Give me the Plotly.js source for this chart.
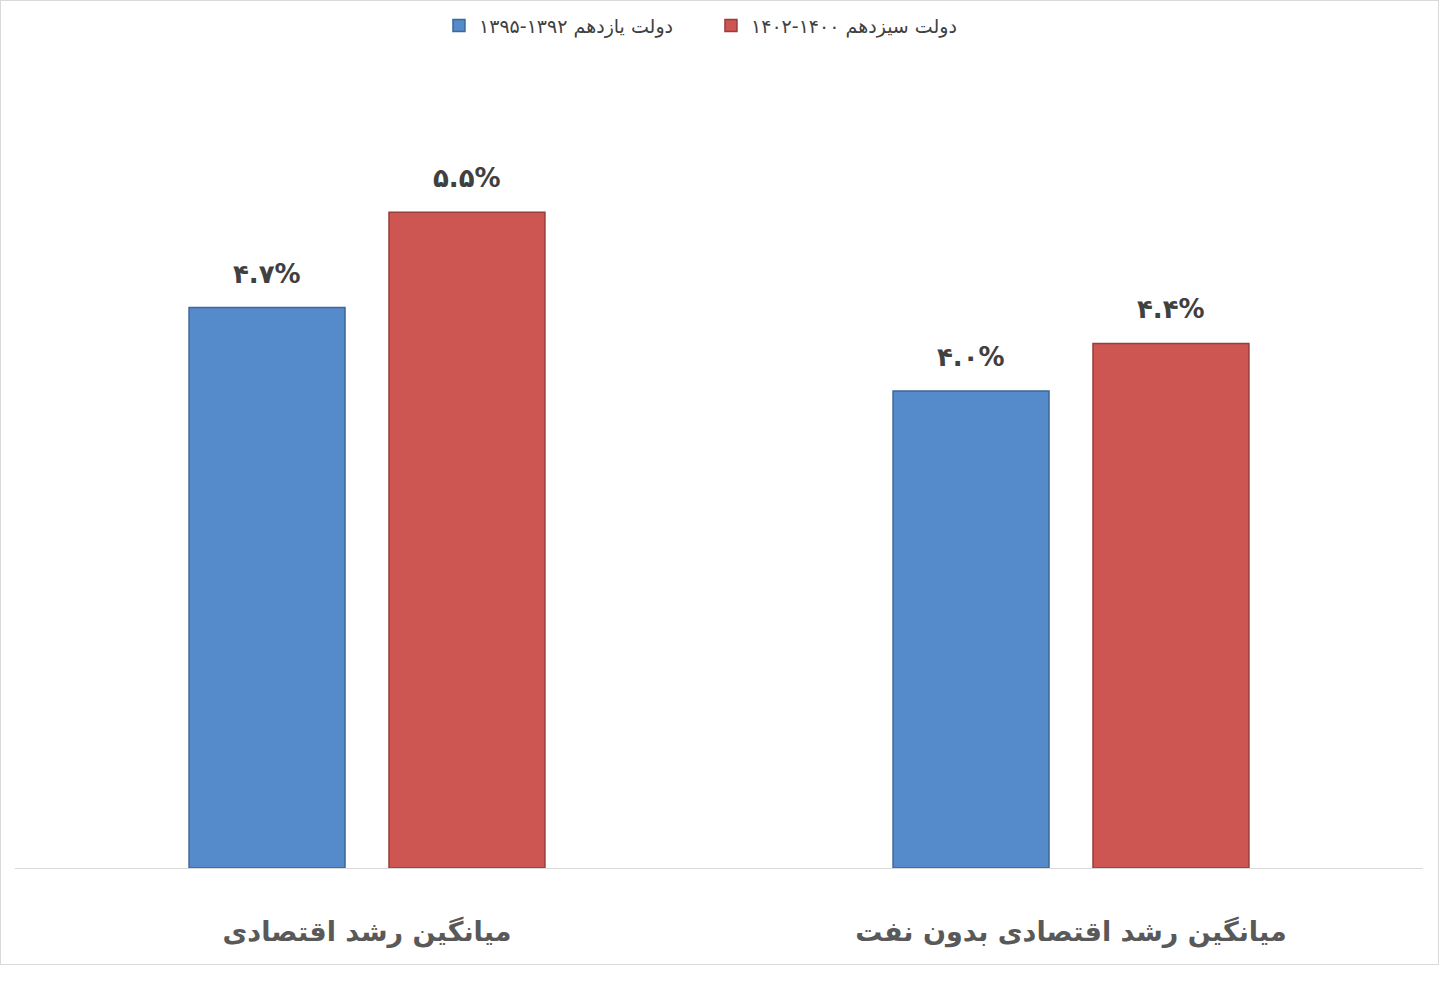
<!DOCTYPE html>
<html>
<head>
<meta charset="utf-8">
<script src="https://cdn.plot.ly/plotly-3.0.1.min.js"></script>
<style>
  body { margin: 0; background: #fff; }
  #chart { width: 1437px; height: 963px; border: 1px solid #d9d9d9; }
</style>
</head>
<body>
<div id="chart"></div>
<script>
// دسته‌ها و مقادیر (درصد)
var categories = ['میانگین رشد اقتصادی', 'میانگین رشد اقتصادی بدون نفت'];
var seriesNames = ['دولت یازدهم ۱۳۹۲-۱۳۹۵', 'دولت سیزدهم ۱۴۰۰-۱۴۰۲'];
var eleventhValues = [4.7, 4.0];
var thirteenthValues = [5.5, 4.4];
var eleventhLabels = ['۴.۷%', '۴.۰%'];
var thirteenthLabels = ['۵.۵%', '۴.۴%'];

var fontFa = 'DejaVu Sans, Noto Sans, sans-serif';

var trace1 = {
    x: categories, y: eleventhValues, name: seriesNames[0], type: 'bar',
    marker: {color: '#558acb', line: {color: '#3d6796', width: 1.5}},
    hoverinfo: 'none'
};
var trace2 = {
    x: categories, y: thirteenthValues, name: seriesNames[1], type: 'bar',
    marker: {color: '#cd5653', line: {color: '#983d3a', width: 1.5}},
    hoverinfo: 'none'
};

// برچسب مقادیر بالای میله‌ها
var annotations = [];
for (i = 0; i < categories.length; i++) {
    annotations.push({x: categories[i], y: eleventhValues[i], text: eleventhLabels[i],
        xshift: -100, yshift: 34, showarrow: false, yanchor: 'middle',
        font: {family: fontFa, size: 26, color: '#404040', weight: 'bold'}});
    annotations.push({x: categories[i], y: thirteenthValues[i], text: thirteenthLabels[i],
        xshift: 100, yshift: 34, showarrow: false, yanchor: 'middle',
        font: {family: fontFa, size: 26, color: '#404040', weight: 'bold'}});
}

var layout = {
    width: 1437, height: 963,
    margin: {l: 14, r: 15, t: 92, b: 96, autoexpand: false},
    paper_bgcolor: '#fff', plot_bgcolor: '#fff',
    barmode: 'group', bargap: 0.432, bargroupgap: 0.22,
    showlegend: true,
    legend: {orientation: 'h', x: 0.4943, xanchor: 'center', y: 1.087, yanchor: 'middle',
        entrywidth: 227, entrywidthmode: 'pixels',
        font: {family: fontFa, size: 19, color: '#404040'}},
    xaxis: {showline: true, linecolor: '#d9d9d9', linewidth: 1, ticks: '',
        ticklabelstandoff: 40, showgrid: false, fixedrange: true, automargin: false,
        tickfont: {family: fontFa, size: 27, color: '#595959', weight: 'bold'}},
    yaxis: {range: [0, 6.5], visible: false, showgrid: false, zeroline: false, fixedrange: true},
    annotations: annotations
};

Plotly.newPlot('chart', [trace1, trace2], layout, {displayModeBar: false, staticPlot: true});
</script>
</body>
</html>
